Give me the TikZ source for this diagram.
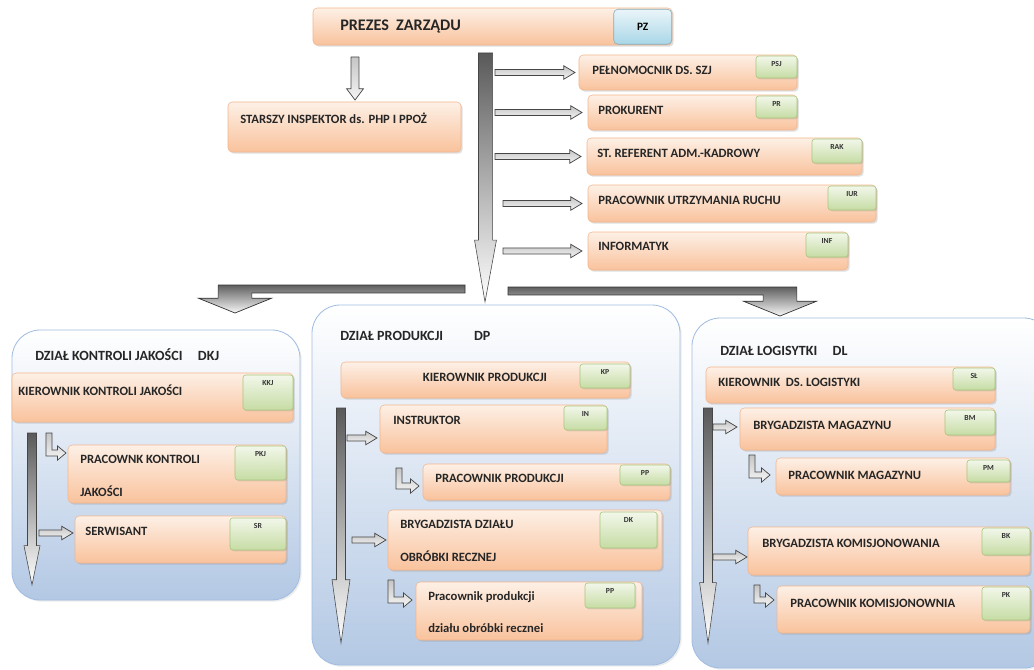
\documentclass[tikz,border=0pt]{standalone}
\usepackage{fontspec}
\setmainfont{Carlito}
\usetikzlibrary{calc}
\usetikzlibrary{shadows}
\usepackage{xcolor}

\definecolor{boxtop}{HTML}{FDF0E6}
\definecolor{boxbot}{HTML}{F9C29C}
\definecolor{boxline}{HTML}{F3B58C}
\definecolor{codetop}{HTML}{F2F7EA}
\definecolor{codebot}{HTML}{C6DCA4}
\definecolor{codeline}{HTML}{A8C67C}
\definecolor{pztop}{HTML}{EAF5F9}
\definecolor{pzbot}{HTML}{A9D6E7}
\definecolor{panelbot}{HTML}{B3C8E4}
\definecolor{panelline}{HTML}{A2BDE2}

% hollow arrow to the right: x from #1, tip at #2
\newcommand{\harrow}[2]{\draw[hollow] let \p1=(#1), \p2=(#2) in
  (\x1,\y2+2.2pt) -- (\x2-8pt,\y2+2.2pt) -- (\x2-8pt,\y2+4.8pt) -- (\x2,\y2)
  -- (\x2-8pt,\y2-4.8pt) -- (\x2-8pt,\y2-2.2pt) -- (\x1,\y2-2.2pt) -- cycle;}
% hollow arrow downwards
\newcommand{\varrow}[2]{\draw[hollow] let \p1=(#1), \p2=(#2) in
  (\x2-2.8pt,\y1) -- (\x2-2.8pt,\y2+8pt) -- (\x2-6pt,\y2+8pt) -- (\x2,\y2)
  -- (\x2+6pt,\y2+8pt) -- (\x2+2.8pt,\y2+8pt) -- (\x2+2.8pt,\y1) -- cycle;}
% bent arrow: down from #1, then right to #2
\newcommand{\larrow}[2]{\draw[hollow] let \p1=(#1), \p2=(#2) in
  (\x1-2.2pt,\y1) -- (\x1-2.2pt,\y2-2.2pt) -- (\x2-6pt,\y2-2.2pt) -- (\x2-6pt,\y2-5pt)
  -- (\x2,\y2) -- (\x2-6pt,\y2+5pt) -- (\x2-6pt,\y2+2.2pt) -- (\x1+2.2pt,\y2+2.2pt)
  -- (\x1+2.2pt,\y1) -- cycle;}
% shaded trunk: start, tip, shaft half, head half, head length
\newcommand{\trunk}[5]{\draw[solidarrow] let \p1=(#1), \p2=(#2) in
  (\x1-#3,\y1) -- (\x1-#3,\y2+#5) -- (\x1-#4,\y2+#5) -- (\x2,\y2)
  -- (\x1+#4,\y2+#5) -- (\x1+#3,\y2+#5) -- (\x1+#3,\y1) -- cycle;}
% bar from the trunk, bending down to a panel (#3 = 1 right, -1 left)
\newcommand{\branch}[3]{\draw[bararrow] let \p1=(#1), \p2=(#2) in
  (\x1,\y1+2.8pt) -- ({\x2+(#3)*12pt},\y1+2.8pt) -- ({\x2+(#3)*12pt},\y2+10.5pt)
  -- ({\x2+(#3)*26pt},\y2+10.5pt) -- (\x2,\y2) -- ({\x2-(#3)*26pt},\y2+10.5pt)
  -- ({\x2-(#3)*12pt},\y2+10.5pt) -- ({\x2-(#3)*12pt},\y1-2.8pt) -- (\x1,\y1-2.8pt) -- cycle;}

\begin{document}
\begin{tikzpicture}[x=0.025cm, y=-0.025cm,
  sz/.style 2 args={minimum width=#1*0.025cm, minimum height=#2*0.025cm},
  box/.style={rectangle, inner sep=0, outer sep=0, anchor=north west, rounded corners=3pt,
    top color=boxtop, bottom color=boxbot, draw=boxline, line width=0.4pt,
    drop shadow={opacity=0.25, shadow xshift=1.2pt, shadow yshift=-1.2pt}},
  code/.style={rectangle, inner sep=0, outer sep=0, anchor=north east, rounded corners=2pt,
    top color=codetop, bottom color=codebot, draw=codeline, line width=0.4pt,
    drop shadow={opacity=0.2, shadow xshift=1pt, shadow yshift=-1pt},
    label={[font=\fontsize{5.5}{6}\selectfont\bfseries, text=black!80, anchor=north, yshift=-4pt, inner sep=0]north:#1}},
  panel/.style={rectangle, inner sep=0, outer sep=0, anchor=north west, rounded corners=20pt,
    top color=white, bottom color=panelbot, draw=panelline, line width=0.6pt,
    drop shadow={opacity=0.15, shadow xshift=1.2pt, shadow yshift=-1.2pt}},
  lbl/.style={font=\fontsize{9}{11}\selectfont\bfseries, text=black!85, inner sep=0, anchor=west, align=left},
  ttl/.style={font=\fontsize{10}{12}\selectfont\bfseries, text=black!85, inner sep=0, anchor=west},
  hollow/.style={draw=gray!55!black, line width=0.5pt, top color=gray!45, bottom color=gray!8},
  solidarrow/.style={draw=gray!55!black, line width=0.4pt, top color=gray!70!black, bottom color=white},
  bararrow/.style={draw=gray!40!black, line width=0.5pt, top color=gray!75!black, bottom color=gray!5}]
\useasboundingbox (0,0) rectangle (1034,670);

% departments
\node[panel, sz={288}{270}] (dkj) at (12,330) {};
\node[panel, sz={368}{360}] (dp) at (312,305) {};
\node[panel, sz={360}{350}] (dl) at (692,318) {};
\node[ttl] (dkjt) at (35,355) {DZIAŁ KONTROLI JAKOŚCI\hspace{1.1em}DKJ};
\node[ttl] (dpt) at (340,336) {DZIAŁ PRODUKCJI\hspace{2.2em}DP};
\node[ttl] (dlt) at (720,351) {DZIAŁ LOGISYTKI\hspace{1.1em}DL};

% top
\node[box, sz={359}{37}] (pz) at (313,8) {};
\node[rectangle, inner sep=0, anchor=north east, rounded corners=3pt, top color=pztop, bottom color=pzbot,
  draw=pzbot!80!black, line width=0.4pt, sz={58}{35}, font=\fontsize{8}{9}\selectfont\bfseries] (pzc) at (672,9) {PZ};
\node[lbl, font=\fontsize{11.5}{13}\selectfont\bfseries] (pzt) at (340,27) {PREZES\ \ ZARZĄDU};

\node[box, sz={233}{50}] (insp) at (228,102) {};
\node[lbl] (inspt) at (240,118) {STARSZY INSPEKTOR ds. PHP I PPOŻ};

\node[box, sz={218}{35}] (psj) at (579,55) {};
\node[code=PSJ, sz={41}{22}] (psjc) at (797,56) {};
\node[lbl] (psjt) at (592,70) {PEŁNOMOCNIK DS. SZJ};
\node[box, sz={209}{35}] (pr) at (588,95) {};
\node[code=PR, sz={41}{22}] (prc) at (797,96) {};
\node[lbl] (prt) at (598,110) {PROKURENT};
\node[box, sz={275}{37}] (rak) at (587,138) {};
\node[code=RAK, sz={50}{24}] (rakc) at (862,139) {};
\node[lbl] (rakt) at (597,153) {ST. REFERENT ADM.-KADROWY};
\node[box, sz={288}{37}] (iur) at (588,185) {};
\node[code=IUR, sz={48}{24}] (iurc) at (876,186) {};
\node[lbl] (iurt) at (598,200) {PRACOWNIK UTRZYMANIA RUCHU};
\node[box, sz={260}{38}] (inf) at (588,232) {};
\node[code=INF, sz={42}{24}] (infc) at (848,233) {};
\node[lbl] (inft) at (598,246) {INFORMATYK};

% quality
\node[box, sz={281}{49}] (kkj) at (12,373) {};
\node[code=KKJ, sz={50}{35}] (kkjc) at (293,375) {};
\node[lbl] (kkjt) at (18,390) {KIEROWNIK KONTROLI JAKOŚCI};
\node[box, sz={218}{58}] (pkj) at (68,445) {};
\node[code=PKJ, sz={51}{34}] (pkjc) at (286,446) {};
\node[lbl] (pkjt) at (80,476) {PRACOWNK KONTROLI\\[12pt]JAKOŚCI};
\node[box, sz={211}{47}] (sr) at (75,516) {};
\node[code=SR, sz={56}{32}] (src) at (286,518) {};
\node[lbl] (srt) at (85,531) {SERWISANT};

% production
\node[box, sz={289}{36}] (kp) at (341,362) {};
\node[code=KP, sz={50}{24}] (kpc) at (630,364) {};
\node[lbl, anchor=center] (kpt) at (485,377) {KIEROWNIK PRODUKCJI};
\node[box, sz={227}{48}] (in) at (380,405) {};
\node[code=IN, sz={43}{24}] (inc) at (607,406) {};
\node[lbl] (int) at (393,420) {INSTRUKTOR};
\node[box, sz={247}{36}] (pp1) at (423,464) {};
\node[code=PP, sz={50}{20}] (pp1c) at (670,465) {};
\node[lbl] (pp1t) at (435,478) {PRACOWNIK PRODUKCJI};
\node[box, sz={274}{60}] (bdk) at (388,510) {};
\node[code=DK, sz={57}{36}] (bdkc) at (657,512) {};
\node[lbl] (bdkt) at (400,541) {BRYGADZISTA DZIAŁU\\[12pt]OBRÓBKI RECZNEJ};
\node[box, sz={226}{58}] (pp2) at (416,582) {};
\node[code=PP, sz={50}{25}] (pp2c) at (635,583) {};
\node[lbl] (pp2t) at (428,612) {Pracownik produkcji\\[12pt]działu obróbki recznei};

% logistics
\node[box, sz={289}{36}] (sl) at (706,367) {};
\node[code=SŁ, sz={42}{22}] (slc) at (995,368) {};
\node[lbl] (slt) at (718,382) {KIEROWNIK\ \ DS. LOGISTYKI};
\node[box, sz={255}{42}] (bm) at (740,408) {};
\node[code=BM, sz={50}{25}] (bmc) at (995,410) {};
\node[lbl] (bmt) at (753,425) {BRYGADZISTA MAGAZYNU};
\node[box, sz={234}{37}] (pm) at (776,458) {};
\node[code=PM, sz={43}{22}] (pmc) at (1010,460) {};
\node[lbl] (pmt) at (788,475) {PRACOWNIK MAGAZYNU};
\node[box, sz={282}{48}] (bk) at (748,527) {};
\node[code=BK, sz={48}{27}] (bkc) at (1030,528) {};
\node[lbl] (bkt) at (762,543) {BRYGADZISTA KOMISJONOWANIA};
\node[box, sz={253}{47}] (pk) at (777,586) {};
\node[code=PK, sz={48}{33}] (pkc) at (1030,587) {};
\node[lbl] (pkt) at (790,603) {PRACOWNIK KOMISJONOWNIA};

% arrows from the board
\coordinate (mtop) at ($(pz.south)+(-7,8)$);
\coordinate (mtip) at ($(dp.north)+(-11,-3)$);
\coordinate (brl) at (465,289);
\coordinate (brr) at (508,291);
\branch{brl}{$(dkj.north west)+(223,-17)$}{-1}
\branch{brr}{$(dl.north west)+(88,-2)$}{1}
\trunk{mtop}{mtip}{5pt}{7.8pt}{44pt}
\varrow{$(pz.south west)+(42,12)$}{$(insp.north west)+(127,-2)$}
\harrow{495,0}{$(psj.west)+(-4,0)$}
\harrow{495,0}{$(pr.west)+(-6,0)$}
\harrow{495,0}{$(rak.west)+(-6,0)$}
\harrow{503,0}{$(iur.west)+(-6,0)$}
\harrow{503,0}{$(inf.west)+(-6,0)$}

% inside the departments
\trunk{$(kkj.south west)+(20,11)$}{$(dkj.south west)+(20,-15)$}{3.2pt}{5.7pt}{28pt}
\larrow{$(kkj.south west)+(37,11)$}{$(pkj.north west)+(-2,8)$}
\harrow{39,0}{$(sr.north west)+(-2,17)$}

\trunk{$(kp.south west)+(0,10)$}{$(dp.south west)+(29,-22)$}{3.2pt}{6.4pt}{45pt}
\harrow{347,0}{$(in.north west)+(-3,33)$}
\larrow{$(in.south west)+(19,15)$}{$(pp1.north west)+(-4,22)$}
\harrow{352,0}{$(bdk.west)+(-2,0)$}
\larrow{$(bdk.south west)+(3,10)$}{$(pp2.north west)+(-4,18)$}

\trunk{$(sl.south west)+(2,5)$}{$(dl.south west)+(16,-25)$}{3.2pt}{6pt}{43pt}
\harrow{713,0}{$(bm.west)+(-3,-2)$}
\larrow{$(bm.south west)+(12,5)$}{$(pm.north west)+(-6,17)$}
\harrow{713,0}{$(bk.west)+(-1,6)$}
\larrow{$(bk.south west)+(9,10)$}{$(pk.north west)+(-3,14)$}
\end{tikzpicture}
\end{document}
